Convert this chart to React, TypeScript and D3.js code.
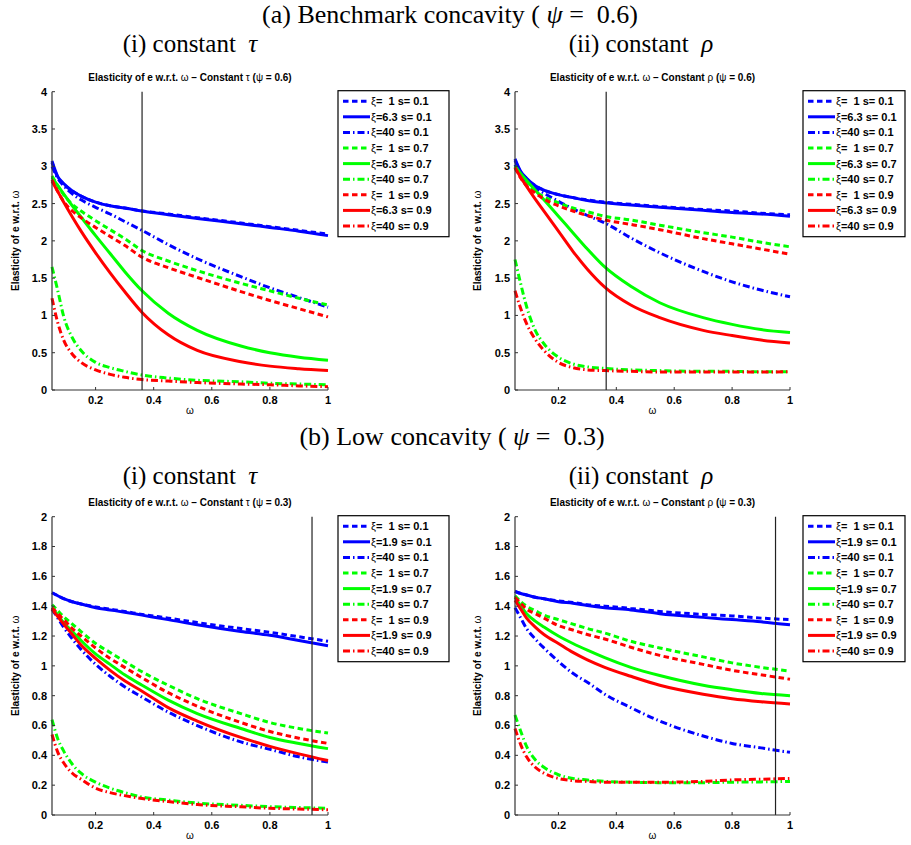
import React from 'react'
import * as d3 from 'd3'

// omega grid shared by all curves
const OMEGA = [0.05, 0.07, 0.09, 0.12, 0.15, 0.2, 0.25, 0.3, 0.36, 0.45, 0.55, 0.7, 0.8, 0.9, 1.0]

const X_TICKS = [0.2, 0.4, 0.6, 0.8, 1]
const Y_TICKS_TOP = [0, 0.5, 1, 1.5, 2, 2.5, 3, 3.5, 4]
const Y_TICKS_BOTTOM = [0, 0.2, 0.4, 0.6, 0.8, 1, 1.2, 1.4, 1.6, 1.8, 2]

const LEGEND_TOP = ['ξ=  1 s= 0.1', 'ξ=6.3 s= 0.1', 'ξ=40 s= 0.1', 'ξ=  1 s= 0.7', 'ξ=6.3 s= 0.7', 'ξ=40 s= 0.7', 'ξ=  1 s= 0.9', 'ξ=6.3 s= 0.9', 'ξ=40 s= 0.9']
const LEGEND_BOTTOM = ['ξ=  1 s= 0.1', 'ξ=1.9 s= 0.1', 'ξ=40 s= 0.1', 'ξ=  1 s= 0.7', 'ξ=1.9 s= 0.7', 'ξ=40 s= 0.7', 'ξ=  1 s= 0.9', 'ξ=1.9 s= 0.9', 'ξ=40 s= 0.9']

const SERIES_COLOR = ['#0000ff', '#0000ff', '#0000ff', '#00ff00', '#00ff00', '#00ff00', '#ff0000', '#ff0000', '#ff0000']
const SERIES_STYLE = ['dash', 'solid', 'dashdot', 'dash', 'solid', 'dashdot', 'dash', 'solid', 'dashdot']

// (a)(i) constant tau, psi = 0.6
const A_BLUE_DASH = [3.05, 2.85, 2.76, 2.67, 2.60, 2.52, 2.47, 2.44, 2.40, 2.36, 2.31, 2.24, 2.19, 2.14, 2.09]
const A_BLUE_SOLID = [3.07, 2.86, 2.77, 2.67, 2.60, 2.52, 2.47, 2.44, 2.40, 2.35, 2.30, 2.23, 2.18, 2.13, 2.07]
const A_BLUE_DD = [3.0, 2.84, 2.74, 2.63, 2.55, 2.45, 2.36, 2.26, 2.14, 1.95, 1.76, 1.52, 1.37, 1.24, 1.11]
const A_GREEN_DASH = [2.87, 2.74, 2.62, 2.49, 2.40, 2.27, 2.15, 2.03, 1.87, 1.73, 1.60, 1.43, 1.33, 1.23, 1.14]
const A_GREEN_SOLID = [2.85, 2.74, 2.63, 2.47, 2.32, 2.07, 1.83, 1.59, 1.33, 1.03, 0.80, 0.59, 0.50, 0.44, 0.40]
const A_GREEN_DD = [1.65, 1.33, 0.99, 0.70, 0.53, 0.37, 0.30, 0.25, 0.20, 0.16, 0.13, 0.11, 0.09, 0.08, 0.07]
const A_RED_DASH = [2.82, 2.66, 2.53, 2.40, 2.31, 2.18, 2.06, 1.94, 1.78, 1.64, 1.51, 1.32, 1.20, 1.09, 0.98]
const A_RED_SOLID = [2.80, 2.66, 2.52, 2.32, 2.13, 1.84, 1.57, 1.32, 1.04, 0.74, 0.53, 0.38, 0.32, 0.285, 0.26]
const A_RED_DD = [1.23, 0.90, 0.67, 0.48, 0.37, 0.27, 0.21, 0.17, 0.14, 0.12, 0.10, 0.08, 0.07, 0.055, 0.045]

// (a)(ii) constant rho, psi = 0.6
const B_BLUE_DASH = [3.08, 2.92, 2.83, 2.74, 2.68, 2.62, 2.58, 2.55, 2.52, 2.49, 2.46, 2.42, 2.40, 2.37, 2.35]
const B_BLUE_SOLID = [3.10, 2.93, 2.84, 2.74, 2.68, 2.62, 2.58, 2.54, 2.51, 2.48, 2.45, 2.41, 2.38, 2.36, 2.33]
const B_BLUE_DD = [3.02, 2.88, 2.80, 2.71, 2.64, 2.53, 2.43, 2.34, 2.24, 2.04, 1.84, 1.59, 1.45, 1.34, 1.25]
const B_GREEN_DASH = [3.0, 2.86, 2.76, 2.66, 2.59, 2.51, 2.44, 2.39, 2.33, 2.28, 2.21, 2.11, 2.05, 1.98, 1.92]
const B_GREEN_SOLID = [3.0, 2.90, 2.81, 2.68, 2.55, 2.33, 2.11, 1.89, 1.65, 1.39, 1.17, 0.97, 0.88, 0.81, 0.77]
const B_GREEN_DD = [1.75, 1.42, 1.12, 0.80, 0.62, 0.44, 0.35, 0.31, 0.29, 0.27, 0.26, 0.25, 0.25, 0.245, 0.245]
const B_RED_DASH = [2.98, 2.84, 2.74, 2.64, 2.56, 2.47, 2.40, 2.34, 2.28, 2.22, 2.15, 2.03, 1.96, 1.89, 1.82]
const B_RED_SOLID = [2.98, 2.85, 2.73, 2.56, 2.40, 2.13, 1.86, 1.62, 1.38, 1.14, 0.97, 0.80, 0.73, 0.67, 0.63]
const B_RED_DD = [1.33, 1.09, 0.89, 0.68, 0.53, 0.37, 0.30, 0.27, 0.26, 0.25, 0.24, 0.24, 0.24, 0.24, 0.245]

// (b)(i) constant tau, psi = 0.3
const C_BLUE_DASH = [1.49, 1.47, 1.45, 1.43, 1.415, 1.395, 1.38, 1.365, 1.345, 1.32, 1.29, 1.25, 1.225, 1.195, 1.165]
const C_BLUE_SOLID = [1.49, 1.47, 1.45, 1.43, 1.415, 1.39, 1.375, 1.36, 1.34, 1.31, 1.275, 1.23, 1.205, 1.17, 1.135]
const C_BLUE_DD = [1.38, 1.32, 1.26, 1.18, 1.11, 1.01, 0.93, 0.86, 0.79, 0.69, 0.60, 0.49, 0.44, 0.39, 0.355]
const C_GREEN_DASH = [1.41, 1.37, 1.33, 1.28, 1.23, 1.15, 1.09, 1.03, 0.96, 0.87, 0.78, 0.68, 0.62, 0.58, 0.55]
const C_GREEN_SOLID = [1.39, 1.34, 1.29, 1.23, 1.17, 1.08, 1.01, 0.94, 0.87, 0.77, 0.68, 0.58, 0.52, 0.48, 0.445]
const C_GREEN_DD = [0.64, 0.51, 0.43, 0.34, 0.28, 0.22, 0.18, 0.15, 0.12, 0.10, 0.08, 0.065, 0.056, 0.05, 0.045]
const C_RED_DASH = [1.39, 1.35, 1.31, 1.25, 1.20, 1.12, 1.05, 0.99, 0.92, 0.82, 0.73, 0.62, 0.56, 0.515, 0.48]
const C_RED_SOLID = [1.38, 1.33, 1.28, 1.21, 1.14, 1.05, 0.97, 0.90, 0.83, 0.72, 0.63, 0.52, 0.46, 0.41, 0.365]
const C_RED_DD = [0.54, 0.42, 0.35, 0.28, 0.24, 0.18, 0.15, 0.13, 0.11, 0.09, 0.07, 0.055, 0.045, 0.04, 0.035]

// (b)(ii) constant rho, psi = 0.3
const D_BLUE_DASH = [1.50, 1.485, 1.475, 1.46, 1.45, 1.435, 1.425, 1.41, 1.40, 1.385, 1.365, 1.345, 1.335, 1.32, 1.31]
const D_BLUE_SOLID = [1.50, 1.485, 1.475, 1.46, 1.45, 1.43, 1.42, 1.405, 1.39, 1.375, 1.35, 1.325, 1.31, 1.295, 1.275]
const D_BLUE_DD = [1.39, 1.32, 1.25, 1.18, 1.12, 1.03, 0.95, 0.89, 0.81, 0.72, 0.63, 0.53, 0.48, 0.45, 0.42]
const D_GREEN_DASH = [1.47, 1.43, 1.40, 1.37, 1.34, 1.31, 1.28, 1.25, 1.22, 1.165, 1.12, 1.06, 1.02, 0.99, 0.965]
const D_GREEN_SOLID = [1.46, 1.40, 1.35, 1.30, 1.26, 1.20, 1.15, 1.105, 1.055, 0.99, 0.935, 0.87, 0.84, 0.815, 0.80]
const D_GREEN_DD = [0.67, 0.56, 0.46, 0.37, 0.32, 0.27, 0.245, 0.235, 0.225, 0.22, 0.217, 0.217, 0.22, 0.222, 0.225]
const D_RED_DASH = [1.46, 1.42, 1.38, 1.35, 1.32, 1.27, 1.24, 1.21, 1.18, 1.125, 1.07, 1.01, 0.97, 0.94, 0.91]
const D_RED_SOLID = [1.44, 1.38, 1.32, 1.26, 1.21, 1.15, 1.09, 1.04, 0.99, 0.93, 0.87, 0.81, 0.78, 0.76, 0.745]
const D_RED_DD = [0.58, 0.47, 0.39, 0.32, 0.28, 0.245, 0.23, 0.225, 0.22, 0.22, 0.22, 0.225, 0.235, 0.24, 0.245]

const SANS = '"Liberation Sans", Arial, sans-serif'
const SERIF = '"Liberation Serif", "Times New Roman", serif'

function dashFor(style) {
    if (style === 'dash') return '5.5,3.5'
    if (style === 'dashdot') return '7,3,1.5,3'
    return null
}

function Panel({ x0, x1, y0, y1, yMax, yTicks, series, legend, legendX, legendW, vline, title, ylabelX }) {

    const x = d3.scaleLinear().domain([0.05, 1]).range([x0, x1])
    const y = d3.scaleLinear().domain([0, yMax]).range([y1, y0])

    const line = d3.line()
        .x((d, i) => x(OMEGA[i]))
        .y(d => y(d))
        .curve(d3.curveMonotoneX)

    const cx = (x0 + x1) / 2
    const legendY = y0 - 1

    return (
        <g>
            <text x={cx} y={y0 - 11} textAnchor="middle" fontFamily={SANS} fontWeight="bold" fontSize={10}>
                {title[0]}<tspan fontWeight="normal">ω</tspan>{title[1]}<tspan fontWeight="normal">{title[2]}</tspan>{' ('}<tspan fontWeight="normal">ψ</tspan>{title[3]}
            </text>

            {series.map((vals, i) => (
                <path key={i} d={line(vals)} fill="none" stroke={SERIES_COLOR[i]} strokeWidth={3}
                    strokeDasharray={dashFor(SERIES_STYLE[i])} />
            ))}

            <line x1={x(vline)} x2={x(vline)} y1={y0} y2={y1} stroke="#222" strokeWidth={1.2} />

            {/* axes */}
            <line x1={x0} x2={x0} y1={y0} y2={y1} stroke="#333" strokeWidth={1.2} />
            <line x1={x0} x2={x1} y1={y1} y2={y1} stroke="#333" strokeWidth={1.2} />

            {yTicks.map(t => (
                <g key={'y' + t}>
                    <line x1={x0} x2={x0 + 3} y1={y(t)} y2={y(t)} stroke="#333" />
                    <text x={x0 - 5} y={y(t)} dy="0.36em" textAnchor="end" fontFamily={SANS} fontWeight="bold" fontSize={11}>{t}</text>
                </g>
            ))}
            {X_TICKS.map(t => (
                <g key={'x' + t}>
                    <line x1={x(t)} x2={x(t)} y1={y1} y2={y1 - 3} stroke="#333" />
                    <text x={x(t)} y={y1 + 14} textAnchor="middle" fontFamily={SANS} fontWeight="bold" fontSize={11}>{t}</text>
                </g>
            ))}

            <text x={cx} y={y1 + 24} textAnchor="middle" fontFamily={SANS} fontSize={10}>ω</text>
            <text transform={`translate(${ylabelX},${(y0 + y1) / 2}) rotate(-90)`} dy="0.36em" textAnchor="middle"
                fontFamily={SANS} fontWeight="bold" fontSize={10}>
                Elasticity of e w.r.t. <tspan fontWeight="normal">ω</tspan>
            </text>

            {/* legend */}
            <rect x={legendX} y={legendY} width={legendW} height={146} fill="#fff" stroke="#000" strokeWidth={1.2} />
            {legend.map((lab, i) => {
                const ly = legendY + 10.5 + i * 15.6
                return (
                    <g key={'l' + i}>
                        <line x1={legendX + 5} x2={legendX + 32} y1={ly} y2={ly} stroke={SERIES_COLOR[i]} strokeWidth={3}
                            strokeDasharray={dashFor(SERIES_STYLE[i])} />
                        <text x={legendX + 33} y={ly} dy="0.36em" fontFamily={SANS} fontWeight="bold" fontSize={11}
                            style={{ whiteSpace: 'pre' }}>
                            <tspan fontWeight="normal">ξ</tspan>{lab.slice(1)}
                        </text>
                    </g>
                )
            })}
        </g>
    )
}

export default function App() {

    const seriesA = [A_BLUE_DASH, A_BLUE_SOLID, A_BLUE_DD, A_GREEN_DASH, A_GREEN_SOLID, A_GREEN_DD, A_RED_DASH, A_RED_SOLID, A_RED_DD]
    const seriesB = [B_BLUE_DASH, B_BLUE_SOLID, B_BLUE_DD, B_GREEN_DASH, B_GREEN_SOLID, B_GREEN_DD, B_RED_DASH, B_RED_SOLID, B_RED_DD]
    const seriesC = [C_BLUE_DASH, C_BLUE_SOLID, C_BLUE_DD, C_GREEN_DASH, C_GREEN_SOLID, C_GREEN_DD, C_RED_DASH, C_RED_SOLID, C_RED_DD]
    const seriesD = [D_BLUE_DASH, D_BLUE_SOLID, D_BLUE_DD, D_GREEN_DASH, D_GREEN_SOLID, D_GREEN_DD, D_RED_DASH, D_RED_SOLID, D_RED_DD]

    return (
        <svg width={911} height={845} style={{ position: 'absolute', left: 0, top: 0, background: '#fff' }}>
            <text x={450} y={23} textAnchor="middle" fontFamily={SERIF} fontSize={26} style={{ whiteSpace: 'pre' }}>
                (a) Benchmark concavity ( <tspan fontStyle="italic">ψ</tspan>{' =  0.6)'}
            </text>
            <text x={190} y={52} textAnchor="middle" fontFamily={SERIF} fontSize={25} style={{ whiteSpace: 'pre' }}>
                {'(i) constant  '}<tspan fontStyle="italic">τ</tspan>
            </text>
            <text x={641} y={52} textAnchor="middle" fontFamily={SERIF} fontSize={25} style={{ whiteSpace: 'pre' }}>
                {'(ii) constant  '}<tspan fontStyle="italic">ρ</tspan>
            </text>

            <text x={452} y={445} textAnchor="middle" fontFamily={SERIF} fontSize={26} style={{ whiteSpace: 'pre' }}>
                (b) Low concavity ( <tspan fontStyle="italic">ψ</tspan>{' =  0.3)'}
            </text>
            <text x={190} y={484} textAnchor="middle" fontFamily={SERIF} fontSize={25} style={{ whiteSpace: 'pre' }}>
                {'(i) constant  '}<tspan fontStyle="italic">τ</tspan>
            </text>
            <text x={641} y={484} textAnchor="middle" fontFamily={SERIF} fontSize={25} style={{ whiteSpace: 'pre' }}>
                {'(ii) constant  '}<tspan fontStyle="italic">ρ</tspan>
            </text>

            <Panel x0={52} x1={328} y0={91.7} y1={390} yMax={4} yTicks={Y_TICKS_TOP} series={seriesA}
                legend={LEGEND_TOP} legendX={338} legendW={111} vline={0.36} ylabelX={15}
                title={['Elasticity of e w.r.t. ', ' – Constant ', 'τ', ' = 0.6)']} />
            <Panel x0={515} x1={790} y0={91.7} y1={390} yMax={4} yTicks={Y_TICKS_TOP} series={seriesB}
                legend={LEGEND_TOP} legendX={803} legendW={102} vline={0.365} ylabelX={477}
                title={['Elasticity of e w.r.t. ', ' – Constant ', 'ρ', ' = 0.6)']} />
            <Panel x0={52} x1={328} y0={516.7} y1={815} yMax={2} yTicks={Y_TICKS_BOTTOM} series={seriesC}
                legend={LEGEND_BOTTOM} legendX={338} legendW={111} vline={0.945} ylabelX={15}
                title={['Elasticity of e w.r.t. ', ' – Constant ', 'τ', ' = 0.3)']} />
            <Panel x0={515} x1={790} y0={516.7} y1={815} yMax={2} yTicks={Y_TICKS_BOTTOM} series={seriesD}
                legend={LEGEND_BOTTOM} legendX={803} legendW={102} vline={0.95} ylabelX={477}
                title={['Elasticity of e w.r.t. ', ' – Constant ', 'ρ', ' = 0.3)']} />
        </svg>
    )
}
